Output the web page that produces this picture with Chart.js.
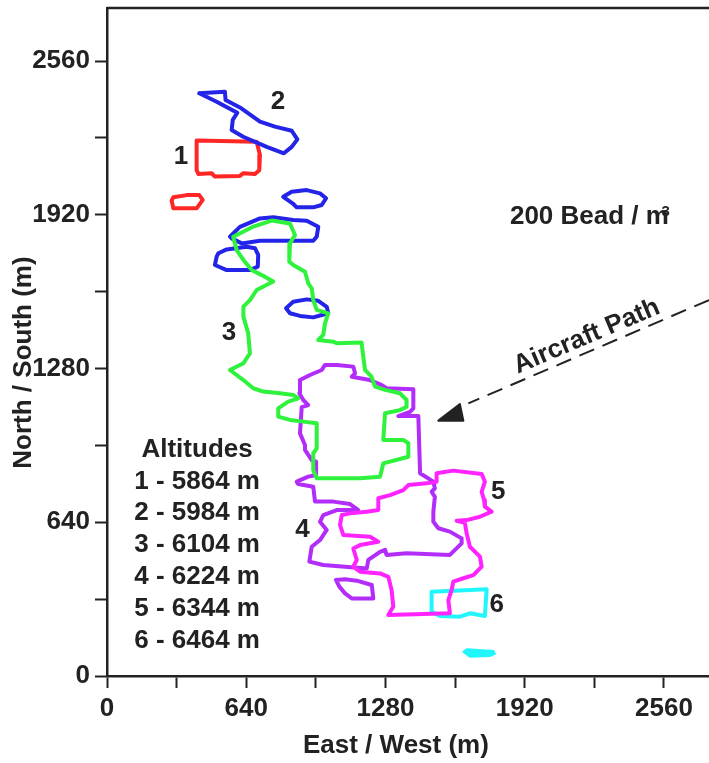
<!DOCTYPE html>
<html>
<head>
<meta charset="utf-8">
<script src="https://cdn.jsdelivr.net/npm/chart.js@4.4.0/dist/chart.umd.min.js"></script>
<style>
  html, body { margin: 0; padding: 0; background: #fff; }
  #wrap { width: 709px; height: 763px; }
</style>
</head>
<body>
<div id="wrap"><canvas id="chart"></canvas></div>
<script>
// ---------------------------------------------------------------------------
// DATA (metres, East/West = x, North/South = y)
// ---------------------------------------------------------------------------
const xTickLabels = [0, 640, 1280, 1920, 2560];
const yTickLabels = [0, 640, 1280, 1920, 2560];
const tickStep = 320; // minor ticks between labelled ones

// 1 - 5864 m (red)
const contour1a = [[412,2229],[688,2224],[703,2169],[700,2106],[680,2090],[626,2093],[611,2082],[496,2079],[481,2093],[420,2090],[412,2106]];
const contour1b = [[297,1979],[305,1947],[412,1947],[440,1982],[424,2002],[366,2002],[305,1993]];

// 2 - 5984 m (blue)
const contour2a = [[424,2426],[542,2432],[545,2398],[611,2367],[703,2308],[772,2287],[849,2270],[875,2234],[849,2203],[813,2176],[734,2203],[626,2245],[573,2273],[578,2315],[599,2345],[504,2391]];
const contour2b = [[810,1995],[849,2016],[918,2023],[979,2009],[1007,1989],[987,1961],[948,1951],[872,1951],[853,1968]];
const contour2c = [[565,1829],[611,1870],[703,1905],[764,1910],[856,1898],[918,1895],[971,1870],[964,1829],[948,1812],[887,1812],[703,1812],[619,1801],[573,1822]];
const contour2d = [[512,1760],[550,1776],[642,1787],[680,1781],[695,1753],[693,1704],[657,1690],[550,1690],[496,1711],[504,1746]];
const contour2e = [[823,1531],[856,1558],[918,1568],[971,1562],[1010,1537],[1017,1510],[948,1493],[887,1499],[841,1510]];

// 3 - 6104 m (green)
const contour3 = [[757,1896],[841,1884],[864,1836],[841,1801],[838,1725],[856,1711],[910,1683],[925,1635],[941,1614],[948,1565],[964,1524],[1017,1510],[1002,1468],[994,1420],[971,1399],[1040,1392],[1056,1385],[1170,1388],[1178,1329],[1186,1274],[1216,1246],[1232,1205],[1278,1191],[1347,1177],[1377,1149],[1377,1121],[1347,1107],[1278,1094],[1270,983],[1362,983],[1385,969],[1385,913],[1270,885],[1255,830],[1163,823],[964,823],[948,858],[948,927],[964,948],[964,1052],[902,1059],[841,1066],[787,1080],[787,1114],[833,1142],[879,1156],[856,1170],[795,1177],[718,1184],[672,1198],[627,1232],[565,1274],[627,1302],[657,1343],[649,1427],[627,1496],[627,1538],[657,1565],[688,1607],[764,1642],[711,1669],[665,1690],[627,1732],[596,1773],[580,1829],[673,1871]];

// 4 - 6224 m (purple)
const contour4a = [[887,1232],[933,1253],[987,1274],[1002,1295],[1056,1295],[1132,1288],[1140,1260],[1125,1246],[1209,1232],[1263,1211],[1285,1198],[1408,1194],[1408,1114],[1393,1100],[1339,1082],[1431,1082],[1439,844],[1500,809],[1507,781],[1492,767],[1507,746],[1500,684],[1500,642],[1523,615],[1576,601],[1630,573],[1630,552],[1576,504],[1377,511],[1285,504],[1278,525],[1255,517],[1201,483],[1194,448],[994,462],[930,476],[941,538],[979,566],[1010,608],[979,642],[994,670],[1056,691],[1155,691],[1117,716],[1040,726],[956,726],[948,788],[879,799],[872,809],[925,830],[961,837],[961,892],[941,899],[910,941],[910,962],[887,1010],[895,1119],[925,1128],[902,1149],[884,1177]];
const contour4b = [[1052,400],[1094,403],[1148,397],[1217,379],[1224,323],[1125,323],[1094,344],[1068,372]];

// 5 - 6344 m (magenta)
const contour5 = [[1515,844],[1592,855],[1722,841],[1737,809],[1722,767],[1733,733],[1737,705],[1768,684],[1714,663],[1653,649],[1607,646],[1645,638],[1653,594],[1668,538],[1714,497],[1722,455],[1684,420],[1638,407],[1592,393],[1584,358],[1569,316],[1576,261],[1293,254],[1316,289],[1308,358],[1293,413],[1255,427],[1163,434],[1132,455],[1148,483],[1132,531],[1163,545],[1247,559],[1209,580],[1086,587],[1071,629],[1079,670],[1117,677],[1193,684],[1247,691],[1247,740],[1301,753],[1362,774],[1385,795],[1469,802],[1515,809]];

// 6 - 6464 m (cyan)
const contour6a = [[1492,351],[1745,361],[1737,250],[1668,261],[1622,247],[1530,250],[1492,268]];
const contour6b = [[1638,101],[1653,111],[1776,104],[1783,92],[1760,83],[1668,80]];

// aircraft path (dashed) and arrow head
const aircraftPath = [[2767,1565],[1661,1135]];
const arrowHead = [[1523,1063],[1638,1063],[1622,1132]];

const altitudeLines = ['Altitudes', '1 - 5864 m', '2 - 5984 m', '3 - 6104 m', '4 - 6224 m', '5 - 6344 m', '6 - 6464 m'];
const altitudeRows = [941, 808, 679, 545, 412, 279, 146];

// ---------------------------------------------------------------------------
// STYLE
// ---------------------------------------------------------------------------
const INK = '#222222';
const FONT = "'Liberation Sans', Arial, Helvetica, sans-serif";
const COLORS = {
  red: '#ff2626',
  blue: '#2424e8',
  green: '#2ef23c',
  purple: '#b22cfa',
  magenta: '#ff24ff',
  cyan: '#20f6fb'
};

function ring(points) {
  const pts = points.map(p => ({ x: p[0], y: p[1] }));
  pts.push({ x: points[0][0], y: points[0][1] });
  return pts;
}

function outline(points, color) {
  return {
    data: ring(points),
    borderColor: color,
    borderWidth: 4,
    showLine: true,
    fill: false,
    pointRadius: 0,
    tension: 0,
    borderJoinStyle: 'round',
    borderCapStyle: 'round'
  };
}

function solid(points, color) {
  return Object.assign(outline(points, color), { fill: 'shape', backgroundColor: color, borderWidth: 2 });
}

const datasets = [
  outline(contour3, COLORS.green),
  outline(contour2a, COLORS.blue),
  outline(contour2b, COLORS.blue),
  outline(contour2c, COLORS.blue),
  outline(contour2d, COLORS.blue),
  outline(contour2e, COLORS.blue),
  outline(contour1a, COLORS.red),
  outline(contour1b, COLORS.red),
  outline(contour5, COLORS.magenta),
  outline(contour4a, COLORS.purple),
  outline(contour4b, COLORS.purple),
  outline(contour6a, COLORS.cyan),
  solid(contour6b, COLORS.cyan),
  {
    data: aircraftPath.map(p => ({ x: p[0], y: p[1] })),
    borderColor: INK, borderWidth: 2, borderDash: [16, 9],
    showLine: true, fill: false, pointRadius: 0
  },
  solid(arrowHead, INK)
];

// ---------------------------------------------------------------------------
// TEXT (plugin)
// ---------------------------------------------------------------------------
const textPlugin = {
  id: 'texts',
  afterDraw(chart) {
    const { ctx, chartArea, scales } = chart;
    const px = v => scales.x.getPixelForValue(v);
    const py = v => scales.y.getPixelForValue(v);

    // top frame line
    ctx.save();
    ctx.strokeStyle = INK;
    ctx.lineWidth = 2.5;
    ctx.beginPath();
    ctx.moveTo(chartArea.left, chartArea.top);
    ctx.lineTo(chartArea.right, chartArea.top);
    ctx.stroke();

    ctx.fillStyle = INK;
    ctx.textAlign = 'center';
    ctx.textBaseline = 'middle';
    ctx.font = `bold 26px ${FONT}`;

    // contour numbers
    const nums = [['1', 340, 2161], ['2', 786, 2390], ['3', 561, 1428], ['4', 899, 608], ['5', 1798, 767], ['6', 1791, 296]];
    nums.forEach(n => ctx.fillText(n[0], px(n[1]), py(n[2])));

    // altitudes block
    altitudeLines.forEach((t, i) => ctx.fillText(t, px(414), py(altitudeRows[i])));

    // concentration label
    ctx.textAlign = 'left';
    const bead = '200 Bead / m';
    const bx = px(1852), by = py(1912);
    ctx.fillText(bead, bx, by);
    const bw = ctx.measureText(bead).width;
    ctx.font = `bold 15px ${FONT}`;
    ctx.textAlign = 'right';
    ctx.textBaseline = 'top';
    ctx.fillText('3', bx + bw + 1, by - 12);

    // aircraft path label
    ctx.font = `bold 26px ${FONT}`;
    ctx.textAlign = 'center';
    ctx.textBaseline = 'middle';
    ctx.save();
    ctx.translate(px(2205), py(1413));
    ctx.rotate(-23 * Math.PI / 180);
    ctx.fillText('Aircraft Path', 0, 0);
    ctx.restore();

    // axis titles
    ctx.fillText('East / West (m)', px(1328), chartArea.bottom + 70);
    ctx.save();
    ctx.translate(24, py(1305));
    ctx.rotate(-Math.PI / 2);
    ctx.fillText('North / South (m)', 0, 0);
    ctx.restore();

    ctx.restore();
  }
};

// ---------------------------------------------------------------------------
// CHART
// ---------------------------------------------------------------------------
function axis(max, labels, fit) {
  return {
    type: 'linear',
    min: 0,
    max: max,
    border: { display: true, width: 2.5, color: INK },
    grid: { drawOnChartArea: false, drawTicks: true, tickLength: 12, tickWidth: 2, tickColor: INK },
    ticks: {
      autoSkip: false,
      maxRotation: 0,
      padding: 5,
      color: INK,
      font: { family: FONT, size: 26, weight: 'bold' },
      callback: v => labels.includes(v) ? String(v) : ''
    },
    // ticks every 320 m, labels only on the multiples of 640
    afterBuildTicks: s => {
      const t = [];
      for (let v = 0; v <= max; v += tickStep) t.push({ value: v });
      s.ticks = t;
    },
    afterFit: fit
  };
}

new Chart(document.getElementById('chart'), {
  type: 'scatter',
  data: { datasets },
  options: {
    responsive: true,
    maintainAspectRatio: false,
    animation: false,
    devicePixelRatio: 1,
    layout: { padding: { top: 8, right: 0, left: 0, bottom: 0 } },
    scales: {
      x: axis(2767, xTickLabels, s => { s.height = 87; s.paddingLeft = 0; s.paddingRight = 0; }),
      y: axis(2781, yTickLabels, s => { s.width = 107; s.paddingTop = 0; s.paddingBottom = 0; })
    },
    plugins: {
      legend: { display: false },
      tooltip: { enabled: false }
    }
  },
  plugins: [textPlugin]
});
</script>
</body>
</html>
